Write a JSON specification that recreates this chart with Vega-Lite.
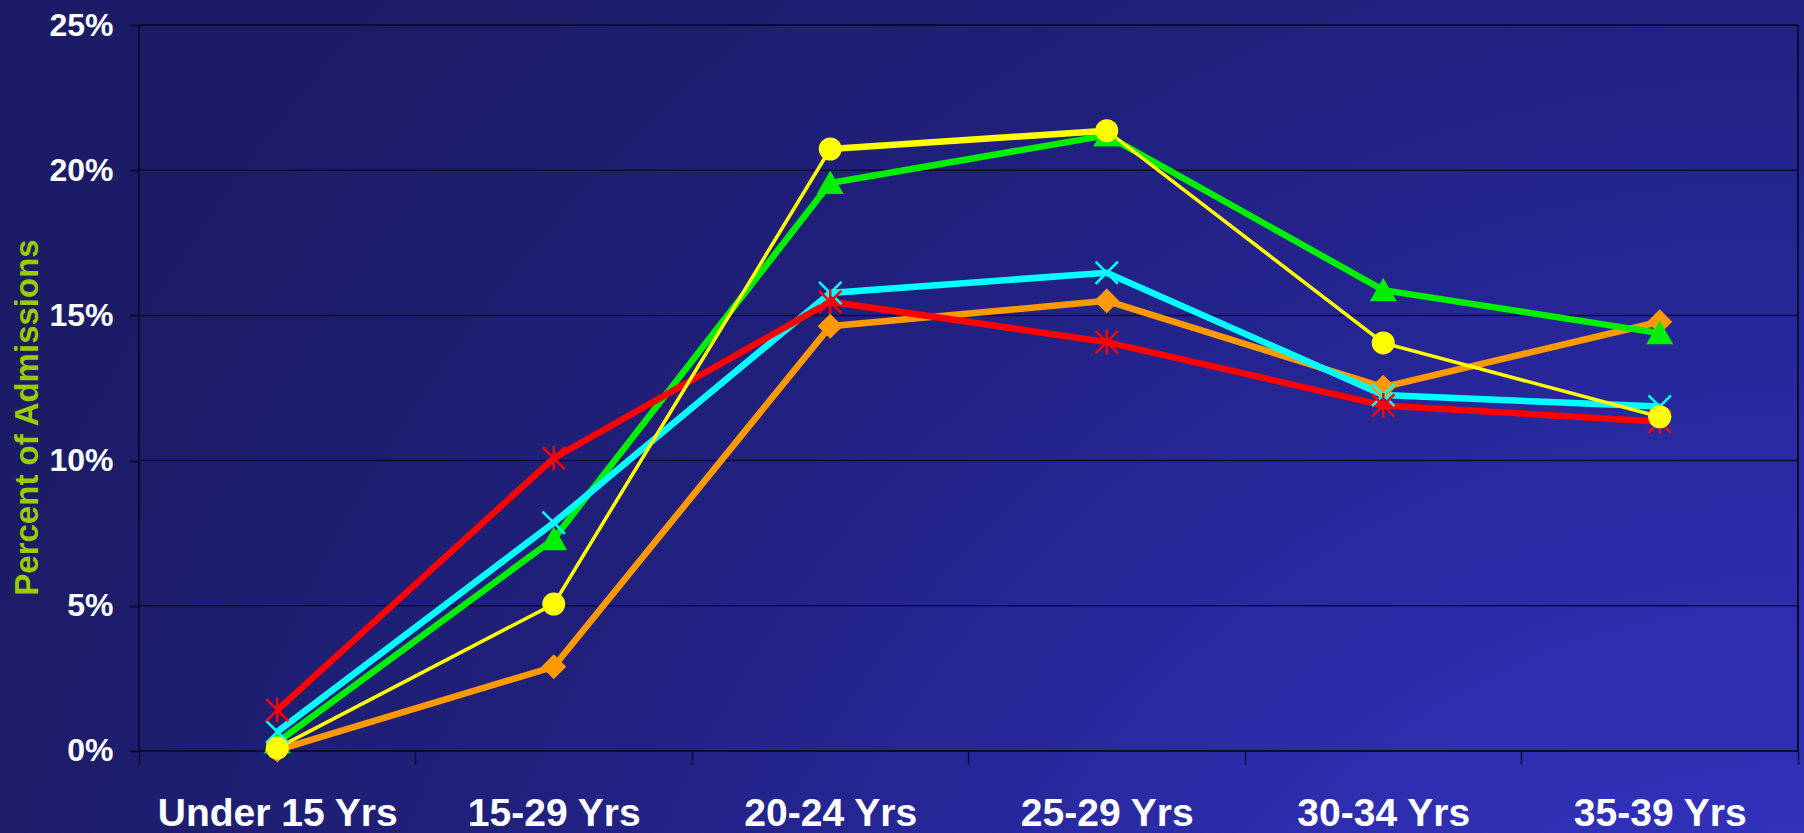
{
  "$schema": "https://vega.github.io/schema/vega-lite/v6.json",
  "width": 1804,
  "height": 833,
  "autosize": {"type": "none"},
  "padding": 0,
  "background": "#1c1c66",
  "config": {
    "font": "Liberation Sans",
    "view": {
      "stroke": null,
      "fill": {
        "gradient": "radial",
        "x1": 1, "y1": 1, "r1": 0,
        "x2": 1, "y2": 1, "r2": 1.08,
        "stops": [
          {"offset": 0, "color": "#3636cc"},
          {"offset": 0.22, "color": "#3232bc"},
          {"offset": 0.39, "color": "#2c2caa"},
          {"offset": 0.53, "color": "#262696"},
          {"offset": 0.72, "color": "#20207c"},
          {"offset": 1, "color": "#1c1c66"}
        ]
      }
    }
  },
  "layer": [
    {
      "data": {"values": [{}]},
      "mark": {"type": "rule", "color": "#0c0c30", "strokeWidth": 1.5},
      "encoding": {
        "x": {"datum": "Under 15 Yrs", "bandPosition": 0, "type": "nominal"},
        "x2": {"datum": "35-39 Yrs", "bandPosition": 1},
        "y": {"datum": 0.05, "type": "quantitative"}
      }
    },
    {
      "data": {"values": [{}]},
      "mark": {"type": "rule", "color": "#0c0c30", "strokeWidth": 1.5},
      "encoding": {
        "x": {"datum": "Under 15 Yrs", "bandPosition": 0, "type": "nominal"},
        "x2": {"datum": "35-39 Yrs", "bandPosition": 1},
        "y": {"datum": 0.10, "type": "quantitative"}
      }
    },
    {
      "data": {"values": [{}]},
      "mark": {"type": "rule", "color": "#0c0c30", "strokeWidth": 1.5},
      "encoding": {
        "x": {"datum": "Under 15 Yrs", "bandPosition": 0, "type": "nominal"},
        "x2": {"datum": "35-39 Yrs", "bandPosition": 1},
        "y": {"datum": 0.15, "type": "quantitative"}
      }
    },
    {
      "data": {"values": [{}]},
      "mark": {"type": "rule", "color": "#0c0c30", "strokeWidth": 1.5},
      "encoding": {
        "x": {"datum": "Under 15 Yrs", "bandPosition": 0, "type": "nominal"},
        "x2": {"datum": "35-39 Yrs", "bandPosition": 1},
        "y": {"datum": 0.20, "type": "quantitative"}
      }
    },
    {
      "data": {"values": [{}]},
      "mark": {"type": "rule", "color": "#0c0c30", "strokeWidth": 2},
      "encoding": {
        "x": {"datum": "Under 15 Yrs", "bandPosition": 0, "type": "nominal"},
        "x2": {"datum": "35-39 Yrs", "bandPosition": 1},
        "y": {"datum": 0.25, "type": "quantitative"}
      }
    },
    {
      "data": {"values": [{}]},
      "mark": {"type": "rule", "color": "#0c0c30", "strokeWidth": 2},
      "encoding": {
        "x": {"datum": "Under 15 Yrs", "bandPosition": 0, "type": "nominal"},
        "x2": {"datum": "35-39 Yrs", "bandPosition": 1},
        "y": {"datum": 0, "type": "quantitative"}
      }
    },
    {
      "data": {"values": [{}]},
      "mark": {"type": "rule", "color": "#0c0c30", "strokeWidth": 2},
      "encoding": {
        "x": {"datum": "Under 15 Yrs", "bandPosition": 0, "type": "nominal"},
        "y": {"datum": 0, "type": "quantitative"},
        "y2": {"datum": 0.25}
      }
    },
    {
      "data": {"values": [{}]},
      "mark": {"type": "rule", "color": "#0c0c30", "strokeWidth": 2},
      "encoding": {
        "x": {"datum": "35-39 Yrs", "bandPosition": 1, "type": "nominal"},
        "y": {"datum": 0, "type": "quantitative"},
        "y2": {"datum": 0.25}
      }
    },
    {
      "data": {"name": "admissions", "values": [
        {"age": "Under 15 Yrs", "series": "Series 1", "pct": 0.0003},
        {"age": "15-29 Yrs", "series": "Series 1", "pct": 0.029},
        {"age": "20-24 Yrs", "series": "Series 1", "pct": 0.1463},
        {"age": "25-29 Yrs", "series": "Series 1", "pct": 0.155},
        {"age": "30-34 Yrs", "series": "Series 1", "pct": 0.1253},
        {"age": "35-39 Yrs", "series": "Series 1", "pct": 0.1478},
        {"age": "Under 15 Yrs", "series": "Series 2", "pct": 0.003},
        {"age": "15-29 Yrs", "series": "Series 2", "pct": 0.073},
        {"age": "20-24 Yrs", "series": "Series 2", "pct": 0.1956},
        {"age": "25-29 Yrs", "series": "Series 2", "pct": 0.212},
        {"age": "30-34 Yrs", "series": "Series 2", "pct": 0.1587},
        {"age": "35-39 Yrs", "series": "Series 2", "pct": 0.1439},
        {"age": "Under 15 Yrs", "series": "Series 3", "pct": 0.0066},
        {"age": "15-29 Yrs", "series": "Series 3", "pct": 0.0786},
        {"age": "20-24 Yrs", "series": "Series 3", "pct": 0.1577},
        {"age": "25-29 Yrs", "series": "Series 3", "pct": 0.1647},
        {"age": "30-34 Yrs", "series": "Series 3", "pct": 0.1226},
        {"age": "35-39 Yrs", "series": "Series 3", "pct": 0.1186},
        {"age": "Under 15 Yrs", "series": "Series 4", "pct": 0.0141},
        {"age": "15-29 Yrs", "series": "Series 4", "pct": 0.1008},
        {"age": "20-24 Yrs", "series": "Series 4", "pct": 0.1547},
        {"age": "25-29 Yrs", "series": "Series 4", "pct": 0.1408},
        {"age": "30-34 Yrs", "series": "Series 4", "pct": 0.119},
        {"age": "35-39 Yrs", "series": "Series 4", "pct": 0.1134},
        {"age": "Under 15 Yrs", "series": "Series 5", "pct": 0.001},
        {"age": "15-29 Yrs", "series": "Series 5", "pct": 0.0506},
        {"age": "20-24 Yrs", "series": "Series 5", "pct": 0.2073},
        {"age": "25-29 Yrs", "series": "Series 5", "pct": 0.2136},
        {"age": "30-34 Yrs", "series": "Series 5", "pct": 0.1405},
        {"age": "35-39 Yrs", "series": "Series 5", "pct": 0.1151}
      ]},
      "layer": [
        {
          "mark": {"type": "line", "strokeJoin": "miter"},
          "encoding": {
            "x": {
              "field": "age", "type": "nominal",
              "sort": ["Under 15 Yrs", "15-29 Yrs", "20-24 Yrs", "25-29 Yrs", "30-34 Yrs", "35-39 Yrs"],
              "scale": {
                "type": "band",
                "domain": ["Under 15 Yrs", "15-29 Yrs", "20-24 Yrs", "25-29 Yrs", "30-34 Yrs", "35-39 Yrs"],
                "paddingInner": 0, "paddingOuter": 0.2622, "align": 0.9586
              },
              "bandPosition": 0.5,
              "axis": {
                "orient": "bottom", "offset": -82, "domain": false, "grid": false,
                "tickBand": "extent", "tickSize": 13, "tickColor": "#0c0c30", "tickWidth": 1.5,
                "labelAngle": 0, "labelAlign": "center", "labelFont": "Liberation Sans", "labelFontSize": 39, "labelFontWeight": "bold",
                "labelColor": "#ffffff", "labelBaseline": "alphabetic", "labelPadding": 61, "labelLimit": 0,
                "title": null
              }
            },
            "y": {
              "field": "pct", "type": "quantitative",
              "scale": {"domain": [-0.02824, 0.25861], "nice": false, "zero": false},
              "axis": {
                "values": [0, 0.05, 0.1, 0.15, 0.2, 0.25], "format": ".0%",
                "offset": -139, "domain": false, "grid": false,
                "tickSize": 10, "tickColor": "#0c0c30", "tickWidth": 2,
                "labelFont": "Liberation Sans", "labelFontSize": 32, "labelFontWeight": "bold",
                "labelColor": "#ffffff", "labelPadding": 16, "labelBaseline": "middle",
                "title": "Percent of Admissions", "titleColor": "#99cc00",
                "titleFont": "Liberation Sans", "titleFontSize": 33, "titleFontWeight": "bold",
                "titleAngle": -90, "titleAlign": "center", "titleBaseline": "alphabetic",
                "titleX": -102, "titleY": 417
              }
            },
            "color": {
              "field": "series", "type": "nominal",
              "scale": {"domain": ["Series 1", "Series 2", "Series 3", "Series 4", "Series 5"],
                        "range": ["#ff9900", "#00ee00", "#00ffff", "#ff0000", "#ffff00"]},
              "legend": null
            },
            "strokeWidth": {
              "field": "series", "type": "nominal",
              "scale": {"type": "ordinal", "domain": ["Series 1", "Series 2", "Series 3", "Series 4", "Series 5"],
                        "range": [6.5, 6.5, 6.5, 6.5, 3.5]},
              "legend": null
            }
          }
        },
        {
          "transform": [
            {"filter": {"field": "series", "equal": "Series 5"}},
            {"filter": {"field": "age", "oneOf": ["20-24 Yrs", "25-29 Yrs"]}}
          ],
          "mark": {"type": "line", "color": "#ffff00", "strokeWidth": 6.5},
          "encoding": {
            "x": {"field": "age", "type": "nominal", "bandPosition": 0.5},
            "y": {"field": "pct", "type": "quantitative"}
          }
        },
        {
          "mark": {"type": "point", "filled": true, "opacity": 1, "strokeWidth": 2.5},
          "encoding": {
            "x": {"field": "age", "type": "nominal", "bandPosition": 0.5},
            "y": {"field": "pct", "type": "quantitative"},
            "color": {
              "field": "series", "type": "nominal",
              "scale": {"domain": ["Series 1", "Series 2", "Series 3", "Series 4", "Series 5"],
                        "range": ["#ff9900", "#00ee00", "#00ffff", "#ff0000", "#ffff00"]},
              "legend": null
            },
            "stroke": {
              "field": "series", "type": "nominal",
              "scale": {"domain": ["Series 1", "Series 2", "Series 3", "Series 4", "Series 5"],
                        "range": ["#ff9900", "#00ee00", "#00ffff", "#ff0000", "#ffff00"]},
              "legend": null
            },
            "shape": {
              "field": "series", "type": "nominal",
              "scale": {"domain": ["Series 1", "Series 2", "Series 3", "Series 4", "Series 5"],
                        "range": ["diamond", "triangle-up", "M-1,-1L1,1M-1,1L1,-1", "M-1,-1L1,1M-1,1L1,-1M0,-1.1L0,1.1", "circle"]},
              "legend": null
            },
            "size": {
              "field": "series", "type": "nominal",
              "scale": {"type": "ordinal", "domain": ["Series 1", "Series 2", "Series 3", "Series 4", "Series 5"],
                        "range": [460, 520, 500, 500, 420]},
              "legend": null
            }
          }
        }
      ]
    }
  ]
}
